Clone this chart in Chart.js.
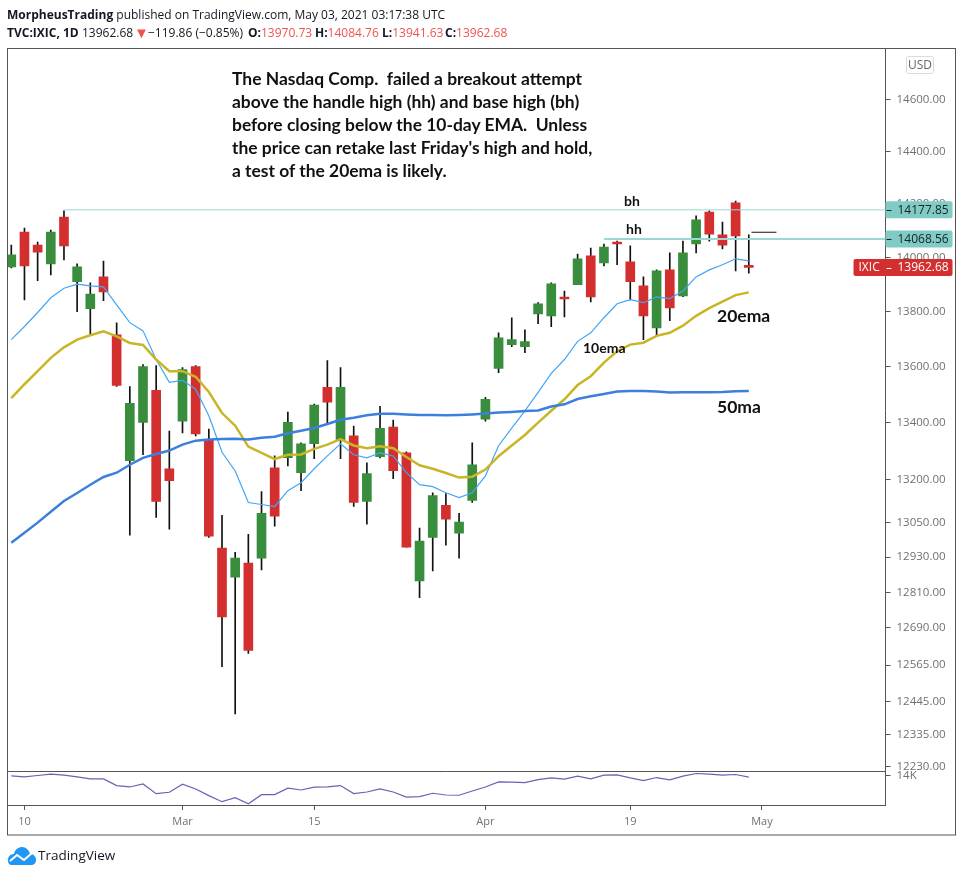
<!DOCTYPE html>
<html>
<head>
<meta charset="utf-8">
<title>TVC:IXIC, 1D</title>
<script src="https://cdn.jsdelivr.net/npm/chart.js@4"></script>
<style>
  html, body { margin: 0; background: #fff; }
  body { width: 963px; height: 876px; position: relative; overflow: hidden; font-family: "Open Sans", sans-serif; }
  canvas { position: absolute; left: 0; top: 0; }
  .txt { position: absolute; white-space: pre; color: #131722; }
  .head { font-size: 12px; line-height: 18px; }
  .head b { font-weight: 700; }
  .head i { font-style: normal; color: #ef5350; }
  .note { font-family: Lato, sans-serif; font-weight: 700; color: #111; }
  #story { left: 232px; top: 67px; font-size: 17.45px; line-height: 23px; }
  #usd { left: 906px; top: 56px; width: 26px; height: 16px; border: 1px solid #d8dae6; border-radius: 3px;
         font-size: 12px; line-height: 16px; text-align: center; color: #666; }
  #tvlogo { left: 38px; top: 846px; font-size: 13.5px; line-height: 18px; }
</style>
</head>
<body>
<canvas id="chart" width="963" height="876"></canvas>

<div class="txt head" style="left:7px;top:6px"><b>MorpheusTrading</b> published on TradingView.com, May 03, 2021 03:17:38 UTC</div>
<div class="txt head" style="left:7px;top:24px"><b>TVC:IXIC, 1D</b></div>
<div class="txt head" style="left:82px;top:24px">13962.68</div>
<div class="txt head" style="left:134px;top:23px;font-size:15px"><i>▼</i></div>
<div class="txt head" style="left:148px;top:24px">−119.86 (−0.85%)</div>
<div class="txt head" style="left:248px;top:24px"><b>O:</b><i>13970.73</i></div>
<div class="txt head" style="left:315px;top:24px"><b>H:</b><i>14084.76</i></div>
<div class="txt head" style="left:382px;top:24px"><b>L:</b><i>13941.63</i></div>
<div class="txt head" style="left:445px;top:24px"><b>C:</b><i>13962.68</i></div>

<div class="txt note" id="story">The Nasdaq Comp.  failed a breakout attempt
above the handle high (hh) and base high (bh)
before closing below the 10-day EMA.  Unless
the price can retake last Friday's high and hold,
a test of the 20ema is likely.</div>

<div class="txt note" style="left:624px;top:192px;font-size:14px">bh</div>
<div class="txt note" style="left:626px;top:220px;font-size:14px">hh</div>
<div class="txt note" style="left:583px;top:339px;font-size:14px">10ema</div>
<div class="txt note" style="left:717px;top:305px;font-size:17.5px">20ema</div>
<div class="txt note" style="left:717px;top:396px;font-size:17.5px">50ma</div>

<div class="txt" id="usd">USD</div>

<svg style="position:absolute;left:7px;top:846px" width="30" height="19" viewBox="0 0 30 19">
  <path d="M1 14 C1 10 4 8 7 8 C8 3 12 1 15 1 C19 1 22 4 23 8 C27 8 29 11 29 14 C29 17 27 19 24 19 L5 19 C2 19 1 17 1 14 Z" fill="#2196f3"/>
  <path d="M3 15 L10 9 L17 14 L25 7" fill="none" stroke="#fff" stroke-width="2"/>
</svg>
<div class="txt" id="tvlogo">TradingView</div>

<script>
// trading days, 9 Feb - 30 Apr 2021
var opens = [13965,14095,14046,13976,14151,13910,13811,13928,13716,13265,
             13401,13515,13237,13405,13601,13339,12961,12862,12910,12927,
             13240,13276,13223,13325,13526,13339,13353,13123,13279,13384,
             13293,12849,12998,13109,13013,13126,13412,13594,13680,13673,
             13792,13785,13854,13899,14006,13980,14057,13984,13895,13741,
             13954,13858,14050,14170,14084,14204,13970.73];
var closes = [14010,13969,14020,14095,14043,13965,13865,13873,13533,13469,
              13601,13123,13195,13590,13360,13002,12727,12927,12614,13081,
              13071,13401,13325,13462,13473,13526,13119,13220,13380,13230,
              12964,12985,13143,13061,13051,13251,13483,13705,13698,13691,
              13829,13902,13847,13995,13854,14039,14050,13910,13785,13950,
              13814,14017,14140,14087,14046,14080,13962.68];
var highs = [14046,14110,14057,14102,14174,13976,13906,13987,13759,13529,
             13608,13604,13370,13597,13604,13377,13074,12947,13009,13157,
             13282,13437,13328,13466,13622,13597,13388,13258,13458,13409,
             13296,13030,13153,13150,13081,13328,13490,13723,13778,13734,
             13833,13906,13876,14013,14035,14050,14061,14043,13928,13954,
             14017,14061,14155,14174,14132,14211,14084.76];
var lows = [13961,13843,13914,13935,13991,13800,13716,13840,13529,13006,
            13286,13067,13026,13363,13353,12998,12560,12403,12604,12886,
            13037,13247,13160,13272,13398,13272,13105,13044,13275,13202,
            12964,12792,12883,12971,12927,13119,13405,13579,13673,13651,
            13756,13745,13781,13899,13836,13969,13973,13843,13698,13712,
            13767,13855,14017,14061,14032,13950,13941.63];

var ema10 = [13698,13746,13797,13851,13886,13901,13895,13891,13825,13760,
             13730,13626,13544,13551,13519,13424,13295,13229,13119,13112,
             13105,13160,13188,13237,13282,13325,13286,13275,13293,13282,
             13223,13181,13174,13153,13136,13153,13212,13318,13380,13442,
             13508,13576,13626,13692,13723,13778,13829,13844,13833,13854,
             13848,13876,13928,13954,13973,13995,13987];
var ema20 = [13487,13537,13584,13632,13670,13698,13714,13728,13710,13686,
             13679,13626,13584,13584,13564,13509,13434,13389,13315,13293,
             13271,13286,13287,13307,13322,13341,13319,13309,13316,13309,
             13278,13249,13237,13222,13206,13209,13234,13281,13319,13356,
             13400,13442,13483,13534,13566,13615,13656,13680,13687,13712,
             13723,13749,13785,13813,13837,13861,13871];
var ma50 = [12980,13014,13049,13087,13124,13152,13181,13208,13223,13251,
            13275,13289,13301,13322,13336,13340,13342,13343,13340,13346,
            13350,13362,13371,13381,13395,13410,13417,13426,13431,13431,
            13429,13427,13427,13426,13427,13429,13432,13436,13438,13441,
            13443,13457,13465,13484,13494,13502,13511,13513,13513,13511,
            13507,13508,13508,13508,13509,13512,13513];
// lower pane, thousands
var lowerPane = [13.97,13.89,14.0,14.11,14.03,13.89,13.73,13.73,13.2,13.09,
                 13.33,12.56,12.67,13.31,12.93,12.4,11.92,12.24,11.76,12.48,
                 12.48,12.99,12.85,13.07,13.09,13.2,12.56,12.69,12.93,12.69,
                 12.29,12.32,12.59,12.45,12.43,12.77,13.09,13.49,13.47,13.44,
                 13.68,13.81,13.71,13.95,13.73,14.03,14.05,13.81,13.6,13.84,
                 13.65,13.95,14.16,14.11,14.03,14.08,13.87];

var priceTicks = [14600,14400,14200,14000,13800,13600,13400,13200,13050,12930,12810,12690,12565,12445,12335,12230];
var lowerTicks = [14];
var dateTickIndex = [1,13,23,36,47,57];
var dateTickLabels = ['10','Mar','15','Apr','19','May'];

var baseHigh = 14177.85;
var handleHigh = 14068.56;
var lastClose = 13962.68;
var lastFridayHigh = 14094;

var UP = '#388e3c', DOWN = '#d32f2f', FRAME = '#555', TICKTXT = '#707070', TEAL = '#80cbc4';
var xMin = -0.25, xMax = 66.38;

function pts(arr) {
    return arr.map(function(v, i) { return { x: i, y: v }; });
}
function line(data, color, width, order, axis) {
    return { type: 'line', data: data, borderColor: color, borderWidth: width, pointRadius: 0,
             tension: 0, order: order, yAxisID: axis || 'y', borderCapStyle: 'butt' };
}

// outer frame and the line between the panes
var framePlugin = {
    id: 'frame',
    afterDraw: function(chart) {
        var c = chart.ctx, a = chart.chartArea, yS = chart.scales.y;
        c.save();
        c.strokeStyle = FRAME;
        c.lineWidth = 1;
        c.strokeRect(a.left - 0.5, a.top - 0.5, chart.scales.y.right - a.left + 0.5, chart.scales.x.bottom - a.top + 0.5);
        c.beginPath();
        c.moveTo(a.left, Math.round(yS.bottom) + 0.5);
        c.lineTo(a.right, Math.round(yS.bottom) + 0.5);
        c.stroke();
        c.restore();
    }
};

// price tags on the right axis
var tagsPlugin = {
    id: 'tags',
    afterDraw: function(chart) {
        var c = chart.ctx, yS = chart.scales.y, x0 = yS.left;
        function tag(value, left, bg, fg, prefix) {
            var py = yS.getPixelForValue(value);
            c.fillStyle = bg;
            c.beginPath();
            c.roundRect(left, py - 8.5, x0 + 67 - left, 17, 2);
            c.fill();
            c.fillStyle = fg;
            c.fillRect(x0 + 1, Math.round(py), 5, 1);
            c.font = '12px "Open Sans"';
            c.textBaseline = 'middle';
            c.textAlign = 'left';
            c.fillText(value.toFixed(2), x0 + 12, py + 0.5);
            if (prefix) c.fillText(prefix, left + 5, py + 0.5);
        }
        tag(baseHigh, x0, TEAL, '#17202a');
        tag(handleHigh, x0, TEAL, '#17202a');
        tag(lastClose, x0 - 32, DOWN, '#fff', 'IXIC');
    }
};

new Chart(document.getElementById('chart').getContext('2d'), {
    type: 'bar',
    data: {
        datasets: [
            line(pts(ema20), '#c9b526', 2.5, 1),
            line(pts(ma50), '#3d7fdc', 2.5, 0),
            line(pts(ema10), '#42a5f5', 1.2, 2),
            line([{ x: 4, y: baseHigh }, { x: xMax, y: baseHigh }], '#9ad8d1', 1, 3),
            line([{ x: 45, y: handleHigh }, { x: xMax, y: handleHigh }], '#9ad8d1', 2, 3),
            line([{ x: 56.2, y: lastFridayHigh }, { x: 58.1, y: lastFridayHigh }], '#111', 1, 3),
            line(pts(lowerPane), '#6563b5', 1.2, 3, 'yLower'),
            {
                data: opens.map(function(o, i) { return { x: i, y: [o, closes[i]] }; }),
                backgroundColor: opens.map(function(o, i) { return closes[i] >= o ? UP : DOWN; }),
                barThickness: 9, grouped: false, order: 4
            },
            {
                data: lows.map(function(l, i) { return { x: i, y: [l, highs[i]] }; }),
                backgroundColor: '#111',
                barThickness: 1, grouped: false, order: 5
            }
        ]
    },
    options: {
        responsive: false,
        devicePixelRatio: 1,
        animation: false,
        events: [],
        layout: { padding: { left: 8, top: 49, right: 7.5, bottom: 41 } },
        plugins: { legend: { display: false }, tooltip: { enabled: false } },
        scales: {
            x: {
                type: 'linear', min: xMin, max: xMax, offset: false,
                grid: { drawOnChartArea: false, tickLength: 5, tickColor: FRAME, offset: false },
                border: { color: FRAME },
                afterBuildTicks: function(s) { s.ticks = dateTickIndex.map(function(v) { return { value: v }; }); },
                afterFit: function(s) { s.height = 30; },
                ticks: {
                    autoSkip: false, maxRotation: 0, padding: 5, color: TICKTXT,
                    font: { family: 'Open Sans', size: 11 },
                    callback: function(v) { return dateTickLabels[dateTickIndex.indexOf(v)]; }
                }
            },
            y: {
                type: 'logarithmic', position: 'right', stack: 'panes', stackWeight: 722,
                min: 12217, max: 14796,
                grid: { drawOnChartArea: false, tickLength: 5, tickColor: FRAME },
                border: { color: FRAME },
                afterBuildTicks: function(s) { s.ticks = priceTicks.map(function(v) { return { value: v }; }); },
                afterFit: function(s) { s.width = 70; },
                ticks: {
                    autoSkip: false, padding: 6, color: TICKTXT, align: 'center', crossAlign: 'near',
                    font: { family: 'Open Sans', size: 11.5 },
                    callback: function(v) { return v.toFixed(2); }
                }
            },
            yLower: {
                type: 'linear', position: 'right', stack: 'panes', stackWeight: 34,
                min: 11.656, max: 14.36,
                grid: { drawOnChartArea: false, tickLength: 5, tickColor: FRAME },
                border: { color: FRAME },
                afterBuildTicks: function(s) { s.ticks = lowerTicks.map(function(v) { return { value: v }; }); },
                afterFit: function(s) { s.width = 70; },
                ticks: {
                    autoSkip: false, padding: 6, color: TICKTXT, crossAlign: 'near',
                    font: { family: 'Open Sans', size: 11.5 },
                    callback: function(v) { return v + 'K'; }
                }
            }
        }
    },
    plugins: [framePlugin, tagsPlugin]
});
</script>
</body>
</html>
